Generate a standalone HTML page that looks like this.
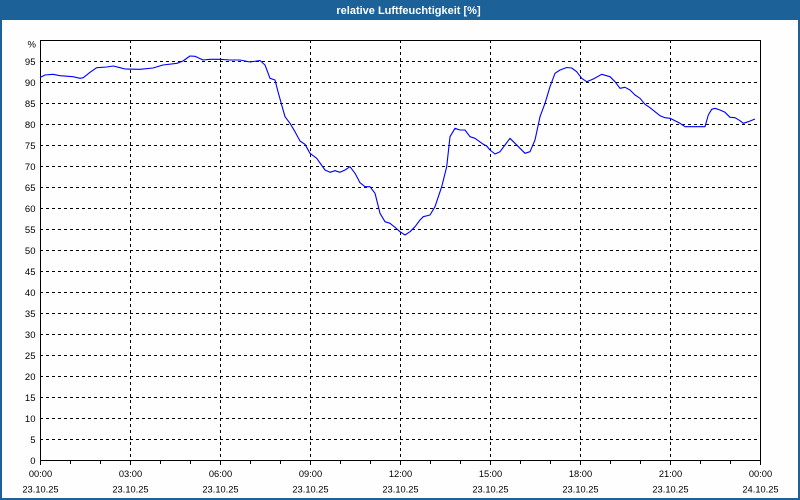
<!DOCTYPE html>
<html>
<head>
<meta charset="utf-8">
<style>
  html,body{margin:0;padding:0;background:#fff;}
  body{width:800px;height:500px;overflow:hidden;}
  svg{display:block;}
  text{font-family:"Liberation Sans","DejaVu Sans",sans-serif;}
</style>
</head>
<body>
<svg width="800" height="500" viewBox="0 0 800 500" xmlns="http://www.w3.org/2000/svg">
  <!-- frame -->
  <rect x="0" y="0" width="800" height="500" fill="#1d6199"/>
  <rect x="2" y="20" width="796" height="478" fill="#fefefe"/>
  <text x="408.5" y="14" fill="#ffffff" font-size="11" font-weight="bold" text-anchor="middle">relative Luftfeuchtigkeit [%]</text>

  <!-- grid -->
  <g stroke="#000" stroke-width="1" stroke-dasharray="3 3" shape-rendering="crispEdges" fill="none">
    <path d="M40 61.5H760M40 82.5H760M40 103.5H760M40 124.5H760M40 145.5H760M40 166.5H760M40 187.5H760M40 208.5H760M40 229.5H760M40 250.5H760M40 271.5H760M40 292.5H760M40 313.5H760M40 334.5H760M40 355.5H760M40 376.5H760M40 397.5H760M40 418.5H760M40 439.5H760"/>
    <path d="M130.5 40V460M220.5 40V460M310.5 40V460M400.5 40V460M490.5 40V460M580.5 40V460M670.5 40V460"/>
  </g>

  <!-- axes / plot border -->
  <g stroke="#000" stroke-width="1" fill="none" shape-rendering="crispEdges">
    <path d="M40.5 40V460.5H760.5V40.5H40"/>
    <path d="M40.5 460V465M70.5 460V464M100.5 460V464M130.5 460V465M160.5 460V464M190.5 460V464M220.5 460V465M250.5 460V464M280.5 460V464M310.5 460V465M340.5 460V464M370.5 460V464M400.5 460V465M430.5 460V464M460.5 460V464M490.5 460V465M520.5 460V464M550.5 460V464M580.5 460V465M610.5 460V464M640.5 460V464M670.5 460V465M700.5 460V464M730.5 460V464M760.5 460V465"/>
  </g>

  <!-- y labels -->
  <g font-size="9.5" fill="#000" text-anchor="end">
    <text x="36" y="47.5">%</text>
    <text x="35.5" y="65">95</text>
    <text x="35.5" y="86">90</text>
    <text x="35.5" y="107">85</text>
    <text x="35.5" y="128">80</text>
    <text x="35.5" y="149">75</text>
    <text x="35.5" y="170">70</text>
    <text x="35.5" y="191">65</text>
    <text x="35.5" y="212">60</text>
    <text x="35.5" y="233">55</text>
    <text x="35.5" y="254">50</text>
    <text x="35.5" y="275">45</text>
    <text x="35.5" y="296">40</text>
    <text x="35.5" y="317">35</text>
    <text x="35.5" y="338">30</text>
    <text x="35.5" y="359">25</text>
    <text x="35.5" y="380">20</text>
    <text x="35.5" y="401">15</text>
    <text x="35.5" y="422">10</text>
    <text x="35.5" y="443">5</text>
    <text x="35.5" y="464">0</text>
  </g>

  <!-- x labels -->
  <g font-size="9.3" fill="#000" text-anchor="middle">
    <text x="40.5" y="477">00:00</text><text x="40.5" y="492.5">23.10.25</text>
    <text x="130.5" y="477">03:00</text><text x="130.5" y="492.5">23.10.25</text>
    <text x="220.5" y="477">06:00</text><text x="220.5" y="492.5">23.10.25</text>
    <text x="310.5" y="477">09:00</text><text x="310.5" y="492.5">23.10.25</text>
    <text x="400.5" y="477">12:00</text><text x="400.5" y="492.5">23.10.25</text>
    <text x="490.5" y="477">15:00</text><text x="490.5" y="492.5">23.10.25</text>
    <text x="580.5" y="477">18:00</text><text x="580.5" y="492.5">23.10.25</text>
    <text x="670.5" y="477">21:00</text><text x="670.5" y="492.5">23.10.25</text>
    <text x="760.5" y="477">00:00</text><text x="760.5" y="492.5">24.10.25</text>
  </g>

  <!-- series -->
  <polyline fill="none" stroke="#0000ff" stroke-width="1.1" stroke-linejoin="round"
    points="40,77.5 45,75 53,74.3 60,75.7 73,76.7 80,78.3 83.3,77.7 90,72.3 96.7,67.7 106.7,67 113.3,66 120,67.7 125,69 140,69.3 153,68 163,65 177,63.3 183,61 190,56 195,56.3 203,60 210,59.3 220,59.3 230,60 240,60 250,62 260,60.5 265,65 270,78.3 275,80 278,91.7 281.7,105 285,116.7 290,123.3 295,131.7 300,141 305,144.3 310,153.3 316.7,158.3 325,170 330,172.3 335,170.7 340,172.3 345,170 350,166.7 355,173.3 360,182.7 365,186.7 370,186.7 375,193.3 380,213.3 385,221.7 390,223.3 395,227.3 400,231.7 405,235 410,231.7 415,226.7 420,220 423.3,216.7 430,215 435,206.7 441.7,186.7 446.7,166.7 450,136.7 455,128.3 460,130 465,130 470,136.7 475,138.3 483.3,144.3 486.7,146 490,150 495,154 500,151.7 505,145 510,138.3 515,143.3 520,148.3 525,153.3 530,151.7 535,140 540,116.7 545,103.3 550,86.7 555,73.3 560,70 566.7,67.5 571.7,68 576.7,71.7 581.7,78.3 586.7,81.7 593.3,79 601.7,74.3 610,76.7 615,81.7 620,88.3 625,87.3 630,90 635,95 640,98.3 645,104.3 650,107.7 655,111.7 660,115.7 665,117.7 670,118.3 675,120.7 680,123.3 685,126.7 705,126.7 708.3,115 711.7,109.3 715,108.3 720,110 725,112.3 730,117.3 735,117.7 740,120.7 743.3,123.3 748.3,121.7 755,119"/>
</svg>
</body>
</html>
